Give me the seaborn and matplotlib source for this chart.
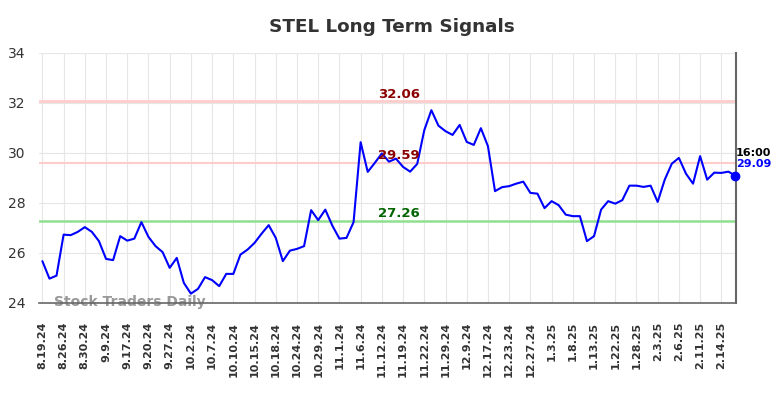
import numpy as np
import pandas as pd
import matplotlib
matplotlib.use("Agg")
import matplotlib.pyplot as plt
import seaborn as sns

# closing prices, one per trading day
prices = [
    25.67, 24.97, 25.09, 26.73, 26.71, 26.84, 27.03, 26.84, 26.47, 25.76,
    25.71, 26.67, 26.49, 26.57, 27.23, 26.64, 26.27, 26.03, 25.40, 25.80,
    24.80, 24.37, 24.56, 25.03, 24.91, 24.67, 25.16, 25.16, 25.93, 26.13,
    26.40, 26.77, 27.11, 26.60, 25.67, 26.09, 26.16, 26.27, 27.71, 27.31,
    27.73, 27.09, 26.57, 26.60, 27.23, 30.43, 29.24, 29.60, 29.98, 29.65,
    29.77, 29.44, 29.25, 29.56, 30.91, 31.71, 31.09, 30.87, 30.72, 31.12,
    30.44, 30.32, 30.99, 30.27, 28.47, 28.63, 28.67, 28.77, 28.85, 28.40,
    28.37, 27.79, 28.07, 27.91, 27.53, 27.47, 27.47, 26.47, 26.67, 27.73,
    28.07, 27.97, 28.11, 28.69, 28.69, 28.64, 28.69, 28.04, 28.93, 29.57,
    29.80, 29.17, 28.77, 29.87, 28.93, 29.21, 29.20, 29.25, 29.09,
]

tick_labels = [
    "8.19.24", "8.26.24", "8.30.24", "9.9.24", "9.17.24", "9.20.24", "9.27.24",
    "10.2.24", "10.7.24", "10.10.24", "10.15.24", "10.18.24", "10.24.24",
    "10.29.24", "11.1.24", "11.6.24", "11.12.24", "11.19.24", "11.22.24",
    "11.29.24", "12.9.24", "12.17.24", "12.23.24", "12.27.24", "1.3.25",
    "1.8.25", "1.13.25", "1.22.25", "1.28.25", "2.3.25", "2.6.25", "2.11.25",
    "2.14.25",
]

resistance_high = 32.06
resistance_low = 29.59
support = 27.26
last_time = "16:00"

df = pd.DataFrame({"idx": np.arange(len(prices)), "price": prices})

sns.set_style("whitegrid", {"grid.color": "#e6e6e6", "axes.edgecolor": "#555555"})
plt.rcParams["font.family"] = ["DejaVu Sans"]

fig = plt.figure(figsize=(7.84, 3.98), dpi=100)
ax = fig.add_axes([0.05, 0.239, 0.889, 0.628])

ax.axhline(resistance_high, color="#ffcccc", lw=2, zorder=1)
ax.axhline(resistance_low, color="#ffcccc", lw=1.5, zorder=1)
ax.axhline(support, color="#90e090", lw=1.8, zorder=1)

sns.lineplot(data=df, x="idx", y="price", color="#0000ff", lw=1.5, ax=ax, zorder=3)
ax.scatter([df["idx"].iloc[-1]], [prices[-1]], color="#0000ff", s=36, zorder=4,
           clip_on=False)

# level labels sit just above their lines, mid chart
mid = 50.4
ax.text(mid, resistance_high + 0.27, f"{resistance_high:.2f}", color="#8b0000",
        fontsize=9.5, fontweight="bold", ha="center", va="center", zorder=5)
ax.text(mid, resistance_low + 0.3, f"{resistance_low:.2f}", color="#8b0000",
        fontsize=9.5, fontweight="bold", ha="center", va="center", zorder=5)
ax.text(mid, support + 0.33, f"{support:.2f}", color="#006400",
        fontsize=9.5, fontweight="bold", ha="center", va="center", zorder=5)

n = len(prices)
ax.text(n - 1 + 0.1, prices[-1] + 0.92, last_time, color="black",
        fontsize=8, fontweight="bold", ha="left", va="center", clip_on=False)
ax.text(n - 1 + 0.1, prices[-1] + 0.47, f"{prices[-1]:.2f}", color="#0000ff",
        fontsize=8, fontweight="bold", ha="left", va="center", clip_on=False)

ax.text(1.6, 24.05, "Stock Traders Daily", color="#999999", fontsize=10,
        fontweight="bold", ha="left", va="center", zorder=2)

ax.set_xlim(-0.45, n - 1 + 0.1)
ax.set_ylim(24, 34)
ax.set_yticks(np.arange(24, 35, 2))
ax.set_xticks(np.arange(0, len(tick_labels) * 3, 3))
ax.set_xticklabels(tick_labels, rotation=90, fontsize=8, fontweight="bold", color="#333333")
ax.tick_params(axis="y", labelsize=10, labelcolor="#333333", length=0, pad=10)
ax.tick_params(axis="x", length=0, pad=13.5)
ax.set_xlabel("")
ax.set_ylabel("")

for side in ["left", "top"]:
    ax.spines[side].set_visible(False)
ax.spines["right"].set_color("#666666")
ax.spines["right"].set_linewidth(1.5)
ax.spines["bottom"].set_color("#666666")
ax.spines["bottom"].set_linewidth(1.2)

fig.suptitle("STEL Long Term Signals", fontsize=13.2, fontweight="bold",
             color="#333333", y=0.955)

fig.savefig("out.png", dpi=100)
